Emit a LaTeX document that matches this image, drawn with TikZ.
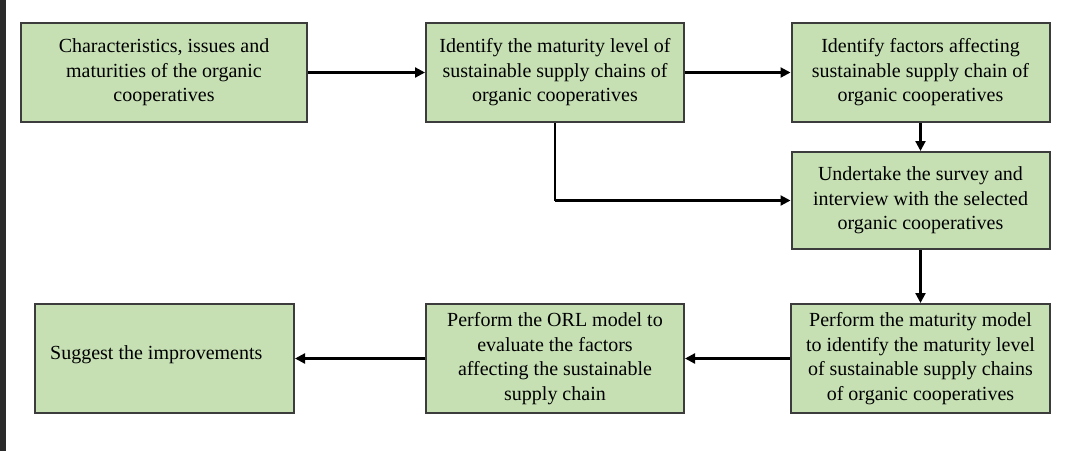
\documentclass[tikz,border=0pt]{standalone}
\usepackage{fontspec}
\setmainfont{Liberation Serif}
\usetikzlibrary{arrows.meta}
\definecolor{boxfill}{HTML}{C6E0B4}
\definecolor{boxline}{HTML}{3C3C3C}
\definecolor{sidebar}{HTML}{2A2A2A}
\begin{document}
\begin{tikzpicture}[x=1pt,y=-1pt,
  box/.style={draw=boxline,line width=2pt,fill=boxfill,inner sep=0pt,align=center,
    font=\fontsize{20}{24.5}\selectfont},
  conn/.style={line width=2.2pt,black,-{Triangle[length=10pt,width=10pt]}},
  line/.style={line width=2.2pt,black}]
\useasboundingbox (0,0) rectangle (1074,451);
\fill[sidebar] (0,0) rectangle (6,451);
\node[box,minimum width=286pt,minimum height=99pt] (b1) at (164,72.5)
  {Characteristics, issues and\\maturities of the organic\\cooperatives};
\node[box,minimum width=258pt,minimum height=99pt] (b2) at (555,72.5)
  {Identify the maturity level of\\sustainable supply chains of\\organic cooperatives};
\node[box,minimum width=258pt,minimum height=99pt] (b3) at (920.5,72.5)
  {Identify factors affecting\\sustainable supply chain of\\organic cooperatives};
\node[box,minimum width=258pt,minimum height=97pt] (b4) at (920.5,200.5)
  {Undertake the survey and\\interview with the selected\\organic cooperatives};
\node[box,minimum width=259pt,minimum height=109pt] (b6) at (920.5,358.5)
  {Perform the maturity model\\to identify the maturity level\\of sustainable supply chains\\of organic cooperatives};
\node[box,minimum width=258pt,minimum height=109pt] (b5) at (555,358.5)
  {Perform the ORL model to\\evaluate the factors\\affecting the sustainable\\supply chain};
\node[box,minimum width=259pt,minimum height=109pt] (b7) at (164.5,358.5) {};
\node[anchor=west,inner sep=0pt,font=\fontsize{20}{24.5}\selectfont] (t7) at (50,355) {Suggest the improvements};
\draw[conn] (b1.east) -- (b2.west);
\draw[conn] (b2.east) -- (b3.west);
\draw[conn] (b3.south) -- (b4.north);
\coordinate (k) at (b2.south |- b4.west);
\draw[line] (b2.south) -- (k);
\draw[conn] (k) -- (b4.west);
\draw[conn] (b4.south) -- (b6.north);
\draw[conn] (b6.west) -- (b5.east);
\draw[conn] (b5.west) -- (b7.east);
\end{tikzpicture}
\end{document}
